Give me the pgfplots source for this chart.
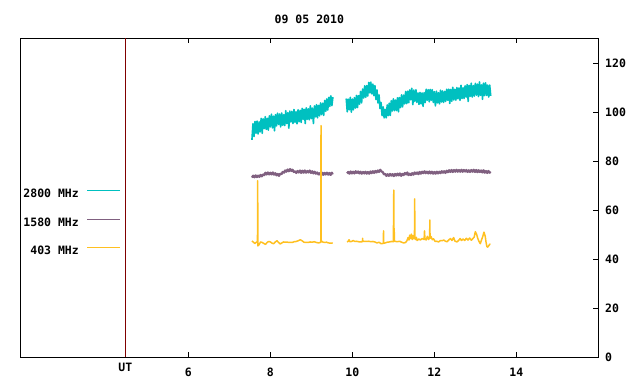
\documentclass[border=0pt]{standalone}
\usepackage{fontspec}
\setmainfont{DejaVu Sans Mono}
\usepackage{pgfplots}
\pgfplotsset{compat=1.18}
\definecolor{c2800}{RGB}{0,192,192}
\definecolor{c1580}{RGB}{128,96,128}
\definecolor{c403}{RGB}{255,192,32}
\definecolor{utline}{RGB}{128,0,0}
\newcommand{\gfont}{\fontsize{11.5bp}{13bp}\selectfont\bfseries}
\begin{document}
\begin{tikzpicture}
\path[use as bounding box] (-20.33bp,-27bp) rectangle (619.67bp,357bp);
\begin{axis}[
  at={(0,0)}, anchor=south west,
  width=578bp, height=318.67bp, scale only axis,
  xmin=1.9, xmax=16, ymin=0, ymax=130.2,
  axis line style={black, line width=1bp},
  xtick={6,8,10,12,14}, ytick={0,20,40,60,80,100,120},
  xtick pos=both, xticklabel pos=lower,
  ytick pos=right, yticklabel pos=right,
  tick align=inside, major tick length=5bp,
  tick style={black, line width=1bp},
  /pgf/number format/assume math mode=true,
  every tick label/.append style={font=\gfont},
  xticklabel style={anchor=north, inner sep=0pt, yshift=-10.7bp},
  yticklabel style={anchor=west, inner sep=0pt, xshift=6.7bp},
  extra x ticks={4.463}, extra x tick labels={UT},
  extra x tick style={tick style={draw=none}, xticklabel style={yshift=4.4bp}},
  title={09 05 2010},
  title style={at={(0.5,1)}, anchor=center, yshift=13.3bp, font=\gfont},
  unbounded coords=jump,
  every axis plot/.append style={line join=round, line cap=butt},
  legend plot pos=right, legend cell align=right,
  legend image code/.code={\draw[#1, line width=1bp] (0bp,3.5bp) -- (33bp,3.5bp);},
  legend style={at={(0.1742,0.422)}, anchor=east, draw=none, fill=none,
    inner sep=0pt, font=\gfont, row sep=18.5bp, column sep=8bp,
    nodes={inner sep=0pt}},
]
\addplot[c2800, line width=1.6bp] coordinates {
(7.550,88.7) (7.575,95.3) (7.600,90.1) (7.625,96.2) (7.650,91.4) (7.675,96.4) (7.700,91.1) (7.725,96.1)
(7.750,92.0) (7.775,97.5) (7.800,91.4) (7.825,97.3) (7.850,93.3) (7.875,98.2) (7.900,93.0) (7.925,97.5)
(7.950,92.7) (7.975,98.5) (8.000,94.0) (8.025,99.2) (8.050,93.6) (8.075,98.4) (8.100,92.4) (8.125,99.0)
(8.150,94.4) (8.175,99.6) (8.200,95.0) (8.225,99.3) (8.250,94.0) (8.275,99.7) (8.300,94.7) (8.325,99.0)
(8.350,94.6) (8.375,100.6) (8.400,95.4) (8.425,99.8) (8.450,93.5) (8.475,100.5) (8.500,96.0) (8.525,100.4)
(8.550,95.4) (8.575,101.1) (8.600,95.9) (8.625,100.2) (8.650,95.3) (8.675,101.0) (8.700,96.1) (8.725,100.8)
(8.750,95.8) (8.775,101.6) (8.800,97.1) (8.825,101.2) (8.850,95.4) (8.875,101.8) (8.900,97.1) (8.925,101.4)
(8.950,96.9) (8.975,102.6) (9.000,97.4) (9.025,101.7) (9.050,95.4) (9.075,102.6) (9.100,98.1) (9.125,103.1)
(9.150,97.7) (9.175,102.8) (9.200,98.5) (9.225,103.8) (9.250,99.0) (9.275,103.7) (9.300,98.7) (9.325,104.8)
(9.350,100.4) (9.375,105.4) (9.400,100.9) (9.425,106.1) (9.450,102.4) (9.475,106.7) (9.500,102.7) (9.525,106.2)
(9.700,nan)
(9.850,105.6) (9.875,100.2) (9.900,105.3) (9.925,101.0) (9.950,106.1) (9.975,100.0) (10.000,105.4) (10.025,101.0)
(10.050,106.0) (10.075,101.7) (10.100,106.9) (10.125,101.9) (10.150,106.8) (10.175,103.3) (10.200,108.5) (10.225,103.8)
(10.250,109.5) (10.275,105.8) (10.300,110.8) (10.325,106.1) (10.350,110.9) (10.375,106.6) (10.400,112.2) (10.425,107.9)
(10.450,112.3) (10.475,107.5) (10.500,111.5) (10.525,106.8) (10.550,110.9) (10.575,105.2) (10.600,109.1) (10.625,103.8)
(10.650,107.1) (10.675,101.5) (10.700,104.0) (10.725,98.6) (10.750,102.2) (10.775,97.7) (10.800,101.2) (10.825,97.7)
(10.850,103.0) (10.875,98.6) (10.900,103.7) (10.925,98.7) (10.950,104.7) (10.975,100.5) (11.000,105.5) (11.025,100.6)
(11.050,105.0) (11.075,100.7) (11.100,105.9) (11.125,100.2) (11.150,106.0) (11.175,101.9) (11.200,107.1) (11.225,102.2)
(11.250,107.0) (11.275,103.4) (11.300,108.5) (11.325,103.5) (11.350,108.6) (11.375,103.9) (11.400,109.1) (11.425,105.1)
(11.450,109.8) (11.475,103.1) (11.500,109.1) (11.525,104.4) (11.550,109.2) (11.575,104.0) (11.600,107.9) (11.625,103.2)
(11.650,108.1) (11.675,103.4) (11.700,107.9) (11.725,102.4) (11.750,108.0) (11.775,103.9) (11.800,109.4) (11.825,104.9)
(11.850,109.2) (11.875,104.3) (11.900,109.3) (11.925,104.9) (11.950,109.2) (11.975,104.0) (12.000,108.4) (12.025,102.6)
(12.050,108.6) (12.075,103.8) (12.100,108.0) (12.125,103.4) (12.150,109.0) (12.175,104.2) (12.200,108.7) (12.225,104.0)
(12.250,108.5) (12.275,104.4) (12.300,109.4) (12.325,104.9) (12.350,109.4) (12.375,103.6) (12.400,109.3) (12.425,104.5)
(12.450,110.2) (12.475,105.0) (12.500,109.4) (12.525,104.9) (12.550,110.1) (12.575,105.5) (12.600,109.9) (12.625,104.9)
(12.650,111.0) (12.675,105.6) (12.700,110.0) (12.725,105.6) (12.750,110.8) (12.775,106.2) (12.800,111.3) (12.825,104.4)
(12.850,111.0) (12.875,106.5) (12.900,111.9) (12.925,106.2) (12.950,110.9) (12.975,106.6) (13.000,111.8) (13.025,107.0)
(13.050,111.5) (13.075,106.4) (13.100,112.4) (13.125,106.9) (13.150,111.2) (13.175,105.3) (13.200,111.9) (13.225,106.8)
(13.250,112.0) (13.275,106.9) (13.300,111.1) (13.325,106.2) (13.350,111.1) (13.375,106.7)
};
\addlegendentry{2800 MHz}
\addplot[c1580, line width=2.2bp] coordinates {
(7.55,73.3) (7.58,74.1) (7.61,73.4) (7.64,74.2) (7.67,73.5) (7.70,74.1) (7.73,73.6) (7.76,74.4) (7.79,73.8) (7.82,74.6)
(7.85,74.3) (7.88,75.3) (7.91,74.6) (7.94,75.4) (7.97,74.6) (8.00,75.3) (8.03,74.6) (8.06,75.4) (8.09,74.5) (8.12,75.1)
(8.15,74.2) (8.18,74.8) (8.21,74.0) (8.24,74.9) (8.27,74.7) (8.30,75.6) (8.33,75.3) (8.36,76.2) (8.39,75.7) (8.42,76.6)
(8.45,75.9) (8.48,76.8) (8.51,76.0) (8.54,76.5) (8.57,75.6) (8.60,75.9) (8.63,75.2) (8.66,76.0) (8.69,75.4) (8.72,76.2)
(8.75,75.2) (8.78,76.1) (8.81,75.3) (8.84,76.2) (8.87,75.3) (8.90,76.0) (8.93,75.4) (8.96,76.2) (8.99,75.2) (9.02,75.9)
(9.05,75.0) (9.08,75.7) (9.11,74.9) (9.14,75.4) (9.17,74.6) (9.20,75.1) (9.23,74.3) (9.26,75.3) (9.29,74.4) (9.32,75.2)
(9.35,74.6) (9.38,75.3) (9.41,74.5) (9.44,75.2) (9.47,74.4) (9.50,75.3) (9.52,74.6)
(9.70,nan)
(9.87,75.0) (9.90,75.6) (9.93,74.9) (9.96,75.8) (9.99,75.0) (10.02,75.7) (10.05,75.0) (10.08,75.9) (10.11,75.2) (10.14,75.8)
(10.17,75.0) (10.20,75.7) (10.23,74.9) (10.26,75.6) (10.29,75.0) (10.32,75.7) (10.35,74.9) (10.38,75.6) (10.41,74.9) (10.44,75.8)
(10.47,75.1) (10.50,75.9) (10.53,75.2) (10.56,76.0) (10.59,75.4) (10.62,76.2) (10.65,75.6) (10.68,76.5) (10.71,75.8) (10.74,75.6)
(10.77,74.6) (10.80,74.8) (10.83,74.0) (10.86,74.7) (10.89,74.0) (10.92,74.8) (10.95,74.1) (10.98,74.7) (11.01,73.9) (11.04,74.8)
(11.07,74.1) (11.10,74.9) (11.13,74.2) (11.16,75.0) (11.19,74.0) (11.22,74.8) (11.25,74.3) (11.28,75.2) (11.31,74.6) (11.34,75.4)
(11.37,74.3) (11.40,74.9) (11.43,74.3) (11.46,75.1) (11.49,74.5) (11.52,75.4) (11.55,74.8) (11.58,75.4) (11.61,74.7) (11.64,75.6)
(11.67,74.9) (11.70,75.7) (11.73,75.1) (11.76,75.9) (11.79,75.1) (11.82,75.7) (11.85,75.0) (11.88,75.8) (11.91,75.0) (11.94,75.7)
(11.97,74.9) (12.00,75.6) (12.03,74.9) (12.06,75.7) (12.09,75.0) (12.12,75.7) (12.15,75.1) (12.18,75.9) (12.21,75.3) (12.24,75.9)
(12.27,75.2) (12.30,76.1) (12.33,75.5) (12.36,76.3) (12.39,75.6) (12.42,76.4) (12.45,75.6) (12.48,76.4) (12.51,75.7) (12.54,76.5)
(12.57,75.7) (12.60,76.4) (12.63,75.7) (12.66,76.5) (12.69,75.7) (12.72,76.4) (12.75,75.8) (12.78,76.4) (12.81,75.6) (12.84,76.3)
(12.87,75.6) (12.90,76.4) (12.93,75.7) (12.96,76.5) (12.99,75.6) (13.02,76.4) (13.05,75.5) (13.08,76.3) (13.11,75.6) (13.14,76.2)
(13.17,75.4) (13.20,76.3) (13.23,75.3) (13.26,76.0) (13.29,75.2) (13.32,76.0) (13.35,75.3) (13.37,75.8)
};
\addlegendentry{1580 MHz}
\addplot[c403, line width=1.5bp] coordinates {
(7.55,47.4) (7.58,47.0) (7.62,46.4) (7.66,46.9) (7.685,47.0) (7.69,72.0) (7.695,45.4) (7.72,45.8) (7.76,47.0) (7.80,46.8)
(7.84,46.4) (7.88,46.0) (7.92,46.8) (7.96,47.2) (8.00,47.0) (8.04,46.5) (8.08,46.3) (8.12,47.0) (8.16,47.5) (8.20,46.8)
(8.24,46.2) (8.28,46.6) (8.32,47.0) (8.37,46.9) (8.42,46.9) (8.47,46.8) (8.53,46.8) (8.58,47.1) (8.63,47.2) (8.68,47.5)
(8.73,47.9) (8.78,47.4) (8.82,46.9) (8.87,46.8) (8.92,46.8) (8.97,47.0) (9.02,46.9) (9.07,47.1) (9.12,46.8) (9.18,46.6)
(9.23,46.9) (9.235,94.5) (9.24,47.5) (9.27,47.0) (9.32,46.8) (9.37,46.9) (9.42,46.6) (9.47,46.5) (9.52,46.6)
(9.70,nan)
(9.87,47.0) (9.90,47.3) (9.92,47.9) (9.94,47.1) (9.98,47.2) (10.02,47.6) (10.06,47.2) (10.10,47.3) (10.15,47.1) (10.20,47.0)
(10.245,47.1) (10.25,48.5) (10.255,47.2) (10.30,47.2) (10.35,47.2) (10.40,47.3) (10.45,47.1) (10.50,47.2) (10.55,47.0) (10.60,46.6)
(10.65,46.9) (10.70,46.3) (10.75,46.4) (10.755,46.5) (10.76,51.5) (10.765,46.5) (10.80,46.6) (10.85,46.9) (10.90,47.0) (10.95,47.2)
(11.00,47.1) (11.01,68.2) (11.015,47.3) (11.02,52.6) (11.025,47.3) (11.06,47.2) (11.10,47.1) (11.15,47.3) (11.20,46.9) (11.25,46.6)
(11.30,46.8) (11.33,47.5) (11.36,48.8) (11.38,47.8) (11.40,49.8) (11.42,48.4) (11.44,50.2) (11.46,48.0) (11.48,49.6) (11.50,48.3)
(11.515,50.4) (11.52,64.6) (11.525,49.0) (11.54,48.0) (11.56,48.9) (11.58,47.6) (11.62,48.2) (11.66,47.8) (11.70,48.4) (11.75,48.0)
(11.76,51.5) (11.77,48.2) (11.80,47.8) (11.83,49.3) (11.86,48.0) (11.885,49.0) (11.89,56.0) (11.895,48.5) (11.92,49.2) (11.95,47.9)
(11.98,48.3) (12.02,47.2) (12.06,47.3) (12.10,47.0) (12.15,47.6) (12.19,47.5) (12.23,47.8) (12.27,47.3) (12.31,47.1) (12.35,47.8)
(12.39,48.4) (12.43,47.6) (12.47,48.8) (12.50,47.4) (12.55,47.0) (12.59,47.6) (12.63,48.4) (12.66,47.6) (12.70,48.2) (12.74,47.6)
(12.78,48.5) (12.82,47.8) (12.86,48.6) (12.90,47.7) (12.94,48.4) (12.97,48.9) (13.00,51.2) (13.03,50.2) (13.06,48.4) (13.09,47.2)
(13.12,46.3) (13.15,47.8) (13.18,49.2) (13.21,51.0) (13.24,49.4) (13.26,47.0) (13.28,45.2) (13.30,44.9) (13.32,45.3) (13.35,46.1)
(13.37,46.0)
};
\addlegendentry{403 MHz}
\addplot[utline, line width=1bp, forget plot] coordinates {(4.463,0) (4.463,130.2)};
\end{axis}
\end{tikzpicture}
\end{document}
